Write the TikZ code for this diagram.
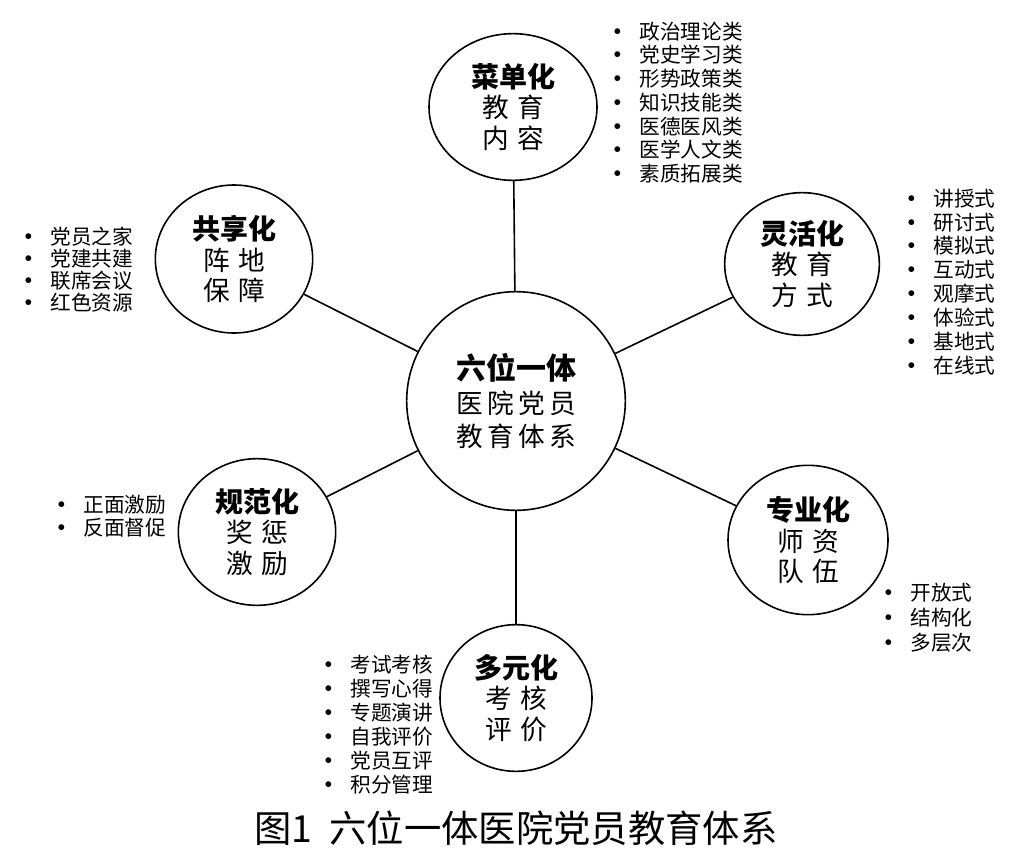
\documentclass[tikz,border=0pt]{standalone}
\usepackage{fontspec}
\setmainfont{Noto Sans CJK SC}
\usetikzlibrary{shapes.geometric}
\newcommand{\gp}{\hspace{0.3em}}
\newcommand{\dotitem}[1]{\makebox[23pt][l]{\hspace{-1pt}\bfseries •}#1}
\begin{document}
\begin{tikzpicture}[x=0.75pt, y=-0.75pt, line width=1.2pt,
    ring/.style={draw, ellipse, inner sep=0pt, minimum width=118pt, minimum height=110pt,
        align=center, font=\fontsize{20pt}{23pt}\selectfont},
    items/.style={anchor=north west, align=left, inner sep=0pt}]
    \useasboundingbox (0,0) rectangle (1016,856);
    % 中心
    \node[draw, ellipse, inner sep=0pt, minimum width=164pt, minimum height=164pt, align=center,
        font=\fontsize{20pt}{25pt}\selectfont] (hub) at (516,401)
        {{\fontsize{22.5pt}{25pt}\selectfont\bfseries 六位一体}\\医\,院\,党\,员\\教\,育\,体\,系};
    % 六个方面
    \node[ring, minimum width=126pt] (menu) at (513,107) {{\fontsize{21pt}{23pt}\selectfont\bfseries 菜单化}\\教\gp 育\\内\gp 容};
    \node[ring, minimum width=116pt, minimum height=107pt] (flex) at (802,264) {{\fontsize{21pt}{23pt}\selectfont\bfseries 灵活化}\\教\gp 育\\方\gp 式};
    \node[ring, minimum height=111pt] (share) at (234,259) {{\fontsize{21pt}{23pt}\selectfont\bfseries 共享化}\\阵\gp 地\\保\gp 障};
    \node[ring] (norm) at (257,532) {{\fontsize{21pt}{23pt}\selectfont\bfseries 规范化}\\奖\gp 惩\\激\gp 励};
    \node[ring, minimum width=120pt, minimum height=112pt] (prof) at (808,540) {{\fontsize{21pt}{23pt}\selectfont\bfseries 专业化}\\师\gp 资\\队\gp 伍};
    \node[ring, minimum width=114pt] (eval) at (516,698) {{\fontsize{21pt}{23pt}\selectfont\bfseries 多元化}\\考\gp 核\\评\gp 价};
    \foreach \p in {menu, flex, share, norm, prof, eval}
        \draw (hub) -- (\p);
    % 列表
    \node[items, font=\fontsize{15.5pt}{17.8pt}\selectfont] (menulist) at (608,21)
        {\dotitem{政治理论类}\\\dotitem{党史学习类}\\\dotitem{形势政策类}\\\dotitem{知识技能类}\\\dotitem{医德医风类}\\\dotitem{医学人文类}\\\dotitem{素质拓展类}};
    \node[items, font=\fontsize{15.5pt}{17.9pt}\selectfont] (flexlist) at (902,188)
        {\dotitem{讲授式}\\\dotitem{研讨式}\\\dotitem{模拟式}\\\dotitem{互动式}\\\dotitem{观摩式}\\\dotitem{体验式}\\\dotitem{基地式}\\\dotitem{在线式}};
    \node[items, font=\fontsize{15.5pt}{16.5pt}\selectfont] (sharelist) at (19,226)
        {\dotitem{党员之家}\\\dotitem{党建共建}\\\dotitem{联席会议}\\\dotitem{红色资源}};
    \node[items, font=\fontsize{15.5pt}{17.3pt}\selectfont] (normlist) at (52,494)
        {\dotitem{正面激励}\\\dotitem{反面督促}};
    \node[items, font=\fontsize{15.5pt}{18.8pt}\selectfont] (proflist) at (879,582)
        {\dotitem{开放式}\\\dotitem{结构化}\\\dotitem{多层次}};
    \node[items, font=\fontsize{15.5pt}{18.1pt}\selectfont] (evallist) at (319,654)
        {\dotitem{考试考核}\\\dotitem{撰写心得}\\\dotitem{专题演讲}\\\dotitem{自我评价}\\\dotitem{党员互评}\\\dotitem{积分管理}};
    % 图题
    \node[font=\fontsize{28pt}{30pt}\selectfont] (caption) at (516,828) {图1\ \ 六位一体医院党员教育体系};
\end{tikzpicture}
\end{document}
